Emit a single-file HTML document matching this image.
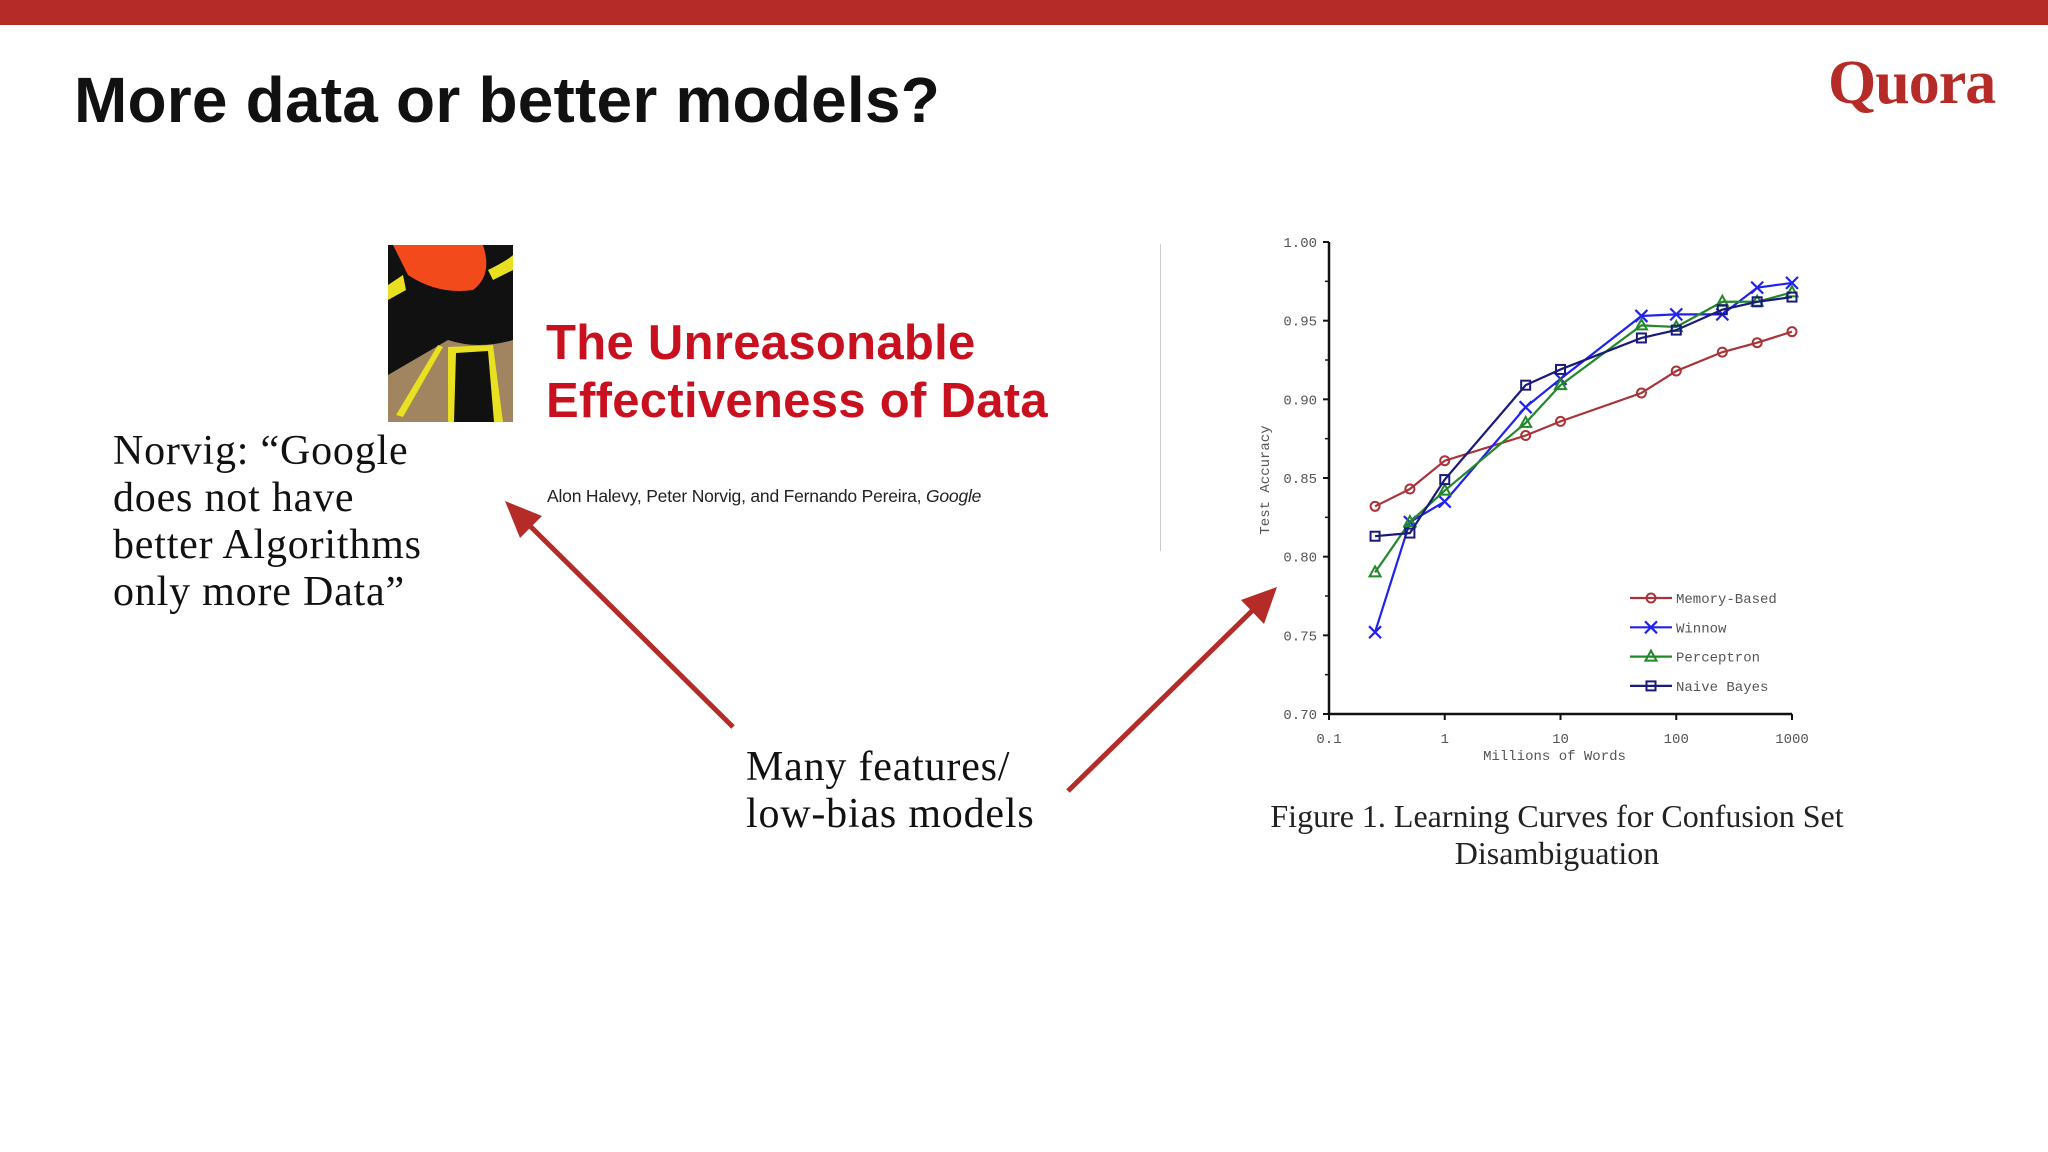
<!DOCTYPE html>
<html><head><meta charset="utf-8">
<style>
html,body{margin:0;padding:0;background:#fff;}
body{width:2048px;height:1152px;position:relative;overflow:hidden;font-family:"Liberation Sans",sans-serif;}
.abs{position:absolute;white-space:nowrap;}
</style></head>
<body>
<div class="abs" style="left:0;top:0;width:2048px;height:25px;background:#b52b27;"></div>
<div class="abs" style="left:74px;top:63px;font-size:64px;font-weight:bold;color:#111;letter-spacing:0.2px;">More data or better models?</div>
<div class="abs" style="left:1828px;top:48px;font-family:'Liberation Serif',serif;font-size:62px;font-weight:bold;color:#b52b27;letter-spacing:-1px;">Quora</div>

<svg class="abs" style="left:388px;top:245px;" width="125" height="177" viewBox="0 0 125 177">
<rect width="125" height="177" fill="#a08560"/>
<path d="M0 0H125V95Q90 105 60 95L0 130Z" fill="#111"/>
<path d="M5 0H95Q105 30 85 45Q50 50 20 30Z" fill="#f24a1a"/>
<path d="M0 40L15 30L18 45L0 55Z" fill="#e8e020"/>
<path d="M8 170L50 100L55 102L15 172Z" fill="#e8e020"/>
<path d="M60 102L105 100L115 177H60Z" fill="#e8e020"/>
<path d="M68 108L100 106L106 177H66Z" fill="#111"/>
<path d="M100 25Q120 15 125 10V25Q115 30 105 35Z" fill="#e8e020"/>
</svg>
<div class="abs" style="left:546px;top:314px;font-size:49px;font-weight:bold;color:#c8101f;line-height:58px;letter-spacing:0.3px;">The Unreasonable<br>Effectiveness of Data</div>
<div class="abs" style="left:547px;top:486px;font-size:17.5px;color:#222;letter-spacing:-0.2px;">Alon Halevy, Peter Norvig, and Fernando Pereira, <i>Google</i></div>
<div class="abs" style="left:1160px;top:244px;width:1px;height:307px;background:#ccc;"></div>

<div class="abs" style="left:113px;top:428px;font-family:'Liberation Serif',serif;font-size:42px;line-height:47px;color:#111;letter-spacing:0.8px;">Norvig: “Google<br>does not have<br>better Algorithms<br>only more Data”</div>
<div class="abs" style="left:746px;top:744px;font-family:'Liberation Serif',serif;font-size:42px;line-height:47px;color:#111;letter-spacing:0.8px;">Many features/<br>low-bias models</div>

<svg class="abs" style="left:0;top:0;" width="2048" height="1152">
<line x1="733" y1="727" x2="525" y2="521" stroke="#b52b27" stroke-width="5"/>
<polygon points="505,501 542,516 520,538" fill="#b52b27"/>
<line x1="1068" y1="791" x2="1258" y2="605" stroke="#b52b27" stroke-width="5"/>
<polygon points="1277,587 1264,624 1241,600" fill="#b52b27"/>
</svg>

<svg id="chart" class="abs" style="left:0;top:0;" width="2048" height="1152"></svg>

<div class="abs" style="left:1157px;top:798px;width:800px;text-align:center;font-family:'Liberation Serif',serif;font-size:32px;line-height:37px;color:#222;">Figure 1. Learning Curves for Confusion Set<br>Disambiguation</div>

<script>
const xValues = [0.25, 0.5, 1, 5, 10, 50, 100, 250, 500, 1000];
const memoryBased = [0.832, 0.843, 0.861, 0.877, 0.886, 0.904, 0.918, 0.930, 0.936, 0.943];
const winnow = [0.752, 0.822, 0.835, 0.895, 0.913, 0.953, 0.954, 0.954, 0.971, 0.974];
const perceptron = [0.790, 0.822, 0.842, 0.885, 0.909, 0.947, 0.946, 0.962, 0.962, 0.968];
const naiveBayes = [0.813, 0.815, 0.849, 0.909, 0.919, 0.939, 0.944, 0.957, 0.962, 0.965];
const yTicks = [0.70, 0.75, 0.80, 0.85, 0.90, 0.95, 1.00];
const xTicks = [0.1, 1, 10, 100, 1000];
const seriesNames = ["Memory-Based", "Winnow", "Perceptron", "Naive Bayes"];

const NS = "http://www.w3.org/2000/svg";
const svg = document.getElementById("chart");
const X0 = 1329, X1 = 1792, Y0 = 714, Y1 = 242;
function sx(v){ return X0 + (Math.log10(v) + 1) / 4 * (X1 - X0); }
function sy(v){ return Y0 - (v - 0.70) / 0.30 * (Y0 - Y1); }
function mk(tag, attrs){ const e = document.createElementNS(NS, tag); for (const k in attrs) e.setAttribute(k, attrs[k]); svg.appendChild(e); return e; }

const yAxis = mk("line", {x1:X0, y1:Y1, x2:X0, y2:Y0, stroke:"#111", "stroke-width":2.5});


const xAxis = mk("line", {x1:X0, y1:Y0, x2:X1, y2:Y0, stroke:"#111", "stroke-width":2.5});



yTicks.forEach(t => {
  const tk = mk("line", {x1:X0-6, y1:sy(t), x2:X0, y2:sy(t), stroke:"#111", "stroke-width":2});
  
  
  const lb = mk("text", {x:X0-12, y:sy(t)+5, "text-anchor":"end", "font-family":"Liberation Mono, monospace", "font-size":14, fill:"#555"});
  lb.textContent = t.toFixed(2);
  
  
});
[0.725,0.775,0.825,0.875,0.925,0.975].forEach(t => {
  const tk = mk("line", {x1:X0-4, y1:sy(t), x2:X0, y2:sy(t), stroke:"#111", "stroke-width":1.5});
  
  
});
xTicks.forEach(t => {
  const tk = mk("line", {x1:sx(t), y1:Y0, x2:sx(t), y2:Y0+6, stroke:"#111", "stroke-width":2});
  
  
  const lb = mk("text", {x:sx(t), y:Y0+29, "text-anchor":"middle", "font-family":"Liberation Mono, monospace", "font-size":14, fill:"#555"});
  lb.textContent = String(t);
  
  
});
const xt = mk("text", {x:(X0+X1)/2 - 6, y:Y0+46, "text-anchor":"middle", "font-family":"Liberation Mono, monospace", "font-size":14, fill:"#555"});
xt.textContent = "Millions of Words";


const yt = mk("text", {x:0, y:0, "text-anchor":"middle", "font-family":"Liberation Mono, monospace", "font-size":14, fill:"#555", transform:"translate(1269,480) rotate(-90)"});
yt.textContent = "Test Accuracy";



function marker(type, x, y, color){
  let e;
  if (type === 0) e = mk("circle", {cx:x, cy:y, r:4.5, fill:"none", stroke:color, "stroke-width":2});
  else if (type === 1) e = mk("path", {d:`M${x-6} ${y-6}L${x+6} ${y+6}M${x-6} ${y+6}L${x+6} ${y-6}`, stroke:color, "stroke-width":2.2});
  else if (type === 2) e = mk("polygon", {points:`${x},${y-6} ${x+5.5},${y+4} ${x-5.5},${y+4}`, fill:"none", stroke:color, "stroke-width":2});
  else e = mk("rect", {x:x-4.5, y:y-4.5, width:9, height:9, fill:"none", stroke:color, "stroke-width":2});
  return e;
}
const colors = ["#a8343a", "#2222ee", "#22882a", "#1a1a7a"];
const allSeries = [memoryBased, winnow, perceptron, naiveBayes];
allSeries.forEach((vals, si) => {
  const pts = vals.map((v, i) => sx(xValues[i]) + "," + sy(v)).join(" ");
  const pl = mk("polyline", {points:pts, fill:"none", stroke:colors[si], "stroke-width":2.2});
  
  
  vals.forEach((v, i) => {
    const m = marker(si, sx(xValues[i]), sy(v), colors[si]);
    
    
  });
  const ly = 598 + si * 29.3;
  const ll = mk("line", {x1:1630, y1:ly, x2:1672, y2:ly, stroke:colors[si], "stroke-width":2.2});
  
  
  const lm = marker(si, 1651, ly, colors[si]);
  
  
  const lt = mk("text", {x:1676, y:ly+5, "font-family":"Liberation Mono, monospace", "font-size":14, fill:"#555"});
  lt.textContent = seriesNames[si];
  
  
});
</script>
</body></html>
